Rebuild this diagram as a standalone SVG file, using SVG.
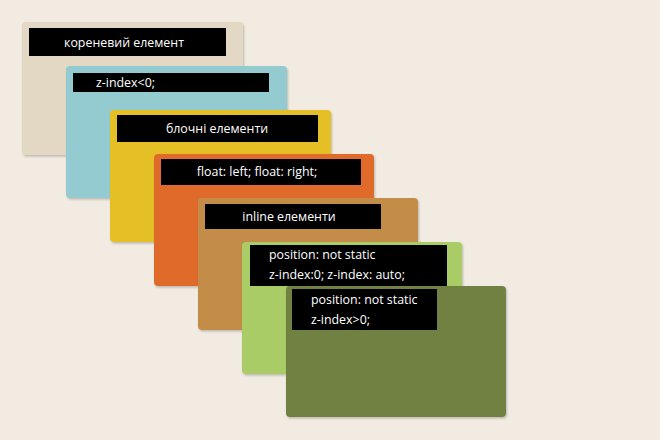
<svg xmlns="http://www.w3.org/2000/svg" width="660" height="440" viewBox="0 0 660 440">
<defs>
<filter id="sh" x="-5%" y="-5%" width="115%" height="115%">
<feDropShadow dx="1" dy="1.5" stdDeviation="1.2" flood-color="#000" flood-opacity="0.22"/>
</filter>
</defs>
<style>
.card{filter:url(#sh);}
.bar{fill:#000;}
text{font-family:"Open Sans","Noto Sans","Liberation Sans",sans-serif;font-size:12.4px;fill:#fff;}
.c{text-anchor:middle;}
</style>
<rect width="660" height="440" fill="#f1ebe1"/>
<g id="n1">
<rect class="card" x="22" y="22" width="221" height="133" rx="4" fill="#e2d8c3"/>
<rect class="bar" x="29" y="28" width="197" height="28"/>
<text class="c" x="124" y="47">кореневий елемент</text>
</g>
<g id="n2">
<rect class="card" x="66" y="66" width="221" height="132" rx="4" fill="#93cbd0"/>
<rect class="bar" x="73" y="73" width="196" height="19"/>
<text x="96" y="87">z-index&lt;0;</text>
</g>
<g id="n3">
<rect class="card" x="110" y="110" width="221" height="132" rx="4" fill="#e5bf25"/>
<rect class="bar" x="117" y="115" width="201" height="27"/>
<text class="c" x="217" y="133">блочні елементи</text>
</g>
<g id="n4">
<rect class="card" x="154" y="154" width="220" height="132" rx="4" fill="#e06b2c"/>
<rect class="bar" x="161" y="159" width="200" height="26"/>
<text class="c" x="257" y="176">float: left; float: right;</text>
</g>
<g id="n5">
<rect class="card" x="198" y="198" width="220" height="132" rx="4" fill="#c48c4a"/>
<rect class="bar" x="205" y="204" width="176" height="25"/>
<text class="c" x="289" y="221">inline елементи</text>
</g>
<g id="n6">
<rect class="card" x="242" y="242" width="220" height="132" rx="4" fill="#a9cc66"/>
<rect class="bar" x="250" y="245" width="197" height="41"/>
<text x="269" y="259">position: not static</text>
<text x="269" y="279">z-index:0; z-index: auto;</text>
</g>
<g id="n7">
<rect class="card" x="286" y="286" width="220" height="131" rx="4" fill="#6f8142"/>
<rect class="bar" x="292" y="289" width="145" height="41"/>
<text x="311" y="304">position: not static</text>
<text x="311" y="324">z-index&gt;0;</text>
</g>
<g id="connectors"/>
</svg>
